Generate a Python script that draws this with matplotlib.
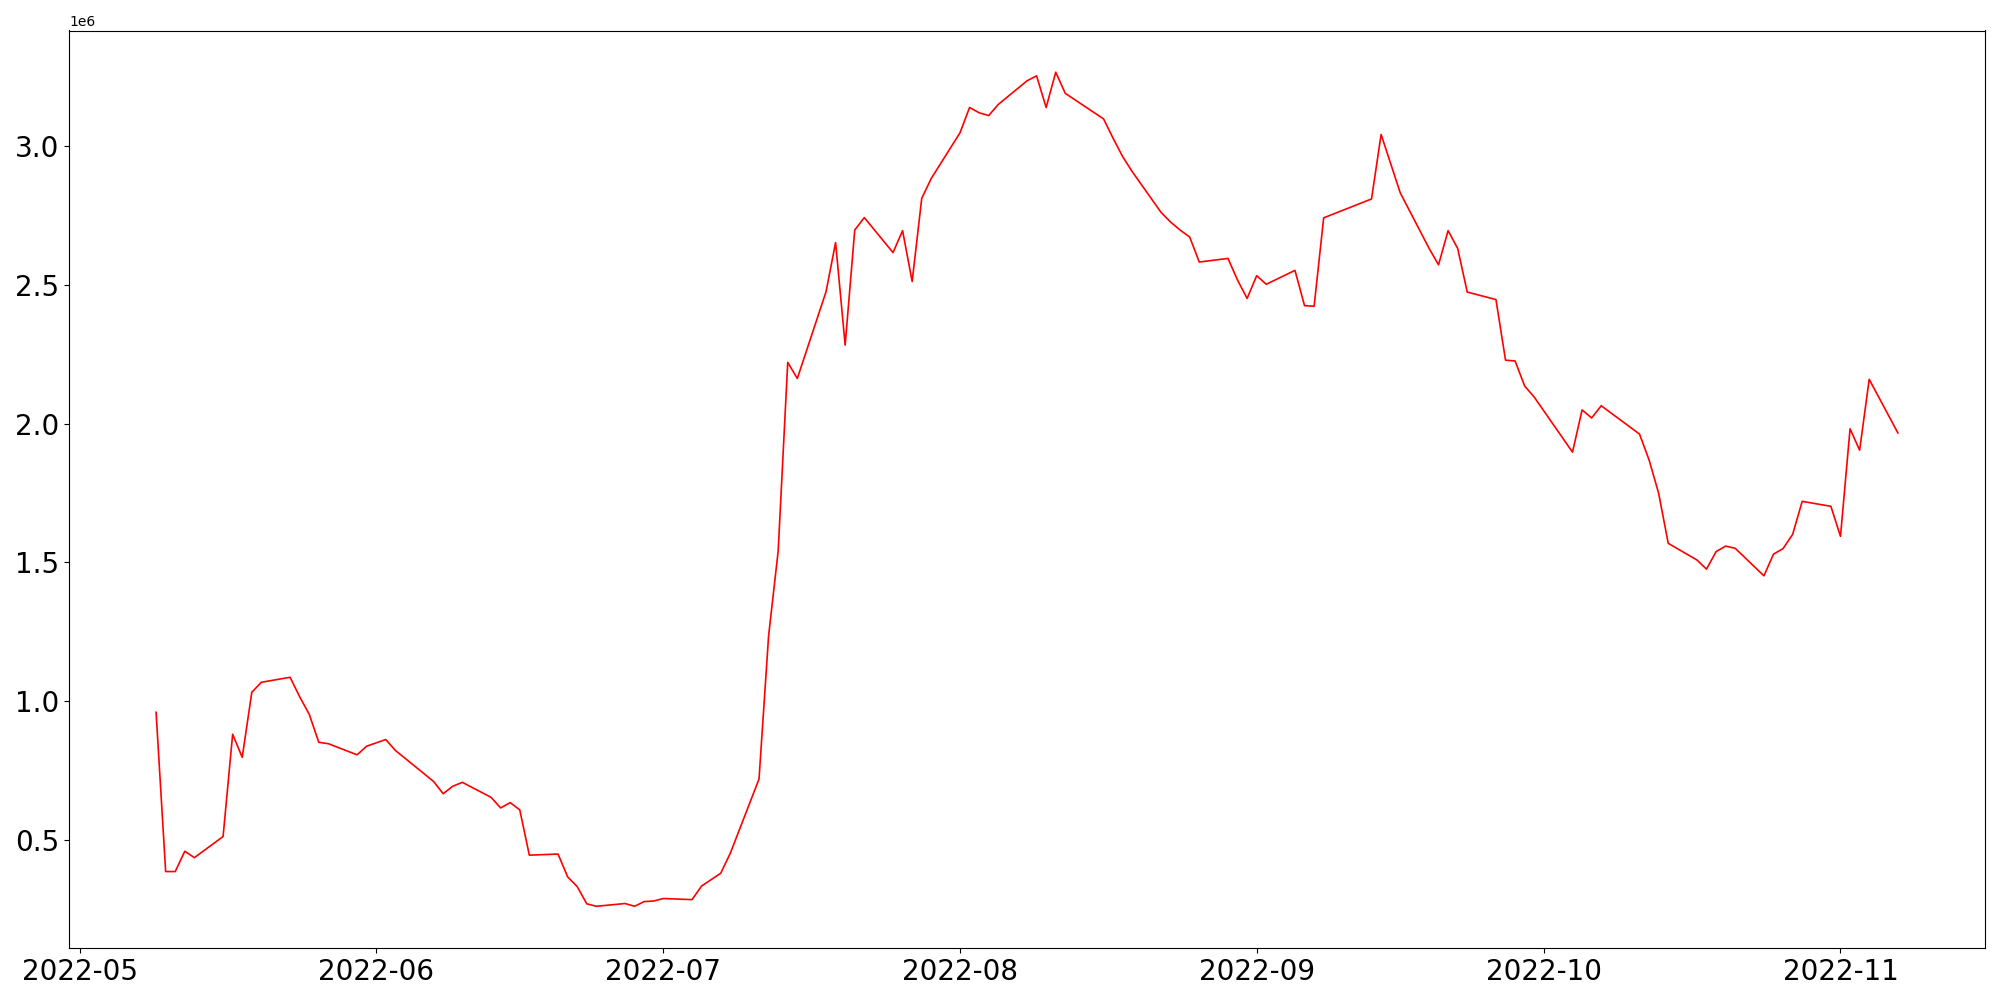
# plot.py

import pandas as pd
import matplotlib
matplotlib.use('Agg')
import matplotlib.pyplot as plt

START = '2022-05-09'
END = '2022-11-07'
# market closed on these weekdays
HOLIDAYS = ['2022-06-01', '2022-06-06', '2022-08-15', '2022-09-09',
            '2022-09-12', '2022-10-03', '2022-10-10']

# values in millions, one per trading day, month by month
may = [0.961, 0.388, 0.388, 0.461, 0.438, 0.514, 0.882, 0.799, 1.033, 1.069,
       1.087, 1.017, 0.954, 0.853, 0.848, 0.808, 0.839]
jun = [0.863, 0.824, 0.712, 0.668, 0.695, 0.709, 0.655, 0.617, 0.636, 0.610,
       0.447, 0.451, 0.369, 0.334, 0.272, 0.263, 0.273, 0.263, 0.280, 0.282]
jul = [0.291, 0.287, 0.336, 0.359, 0.382, 0.454, 0.721, 1.236, 1.541, 2.220,
       2.162, 2.474, 2.651, 2.282, 2.696, 2.741, 2.615, 2.694, 2.511, 2.810,
       2.882]
aug = [3.046, 3.137, 3.118, 3.108, 3.148, 3.233, 3.251, 3.137, 3.264, 3.188,
       3.096, 3.026, 2.960, 2.906, 2.760, 2.725, 2.696, 2.671, 2.581, 2.594,
       2.516, 2.450]
sep = [2.532, 2.501, 2.551, 2.424, 2.422, 2.740, 2.808, 3.040, 2.935, 2.830,
       2.631, 2.571, 2.694, 2.630, 2.473, 2.446, 2.228, 2.225, 2.135, 2.095]
oct_ = [1.897, 2.049, 2.020, 2.064, 1.962, 1.869, 1.749, 1.569, 1.509, 1.476,
        1.539, 1.559, 1.551, 1.452, 1.530, 1.550, 1.601, 1.720, 1.702]
nov = [1.594, 1.981, 1.904, 2.159, 1.966]

dates = pd.bdate_range(START, END)
dates = dates[~dates.isin(pd.to_datetime(HOLIDAYS))]
values = pd.Series([v * 1e6 for v in may + jun + jul + aug + sep + oct_ + nov],
                   index=dates)

fig = plt.figure(figsize=(20, 10), dpi=100)
ax = fig.add_subplot(111)
ax.plot(values.index, values.values, color='red', linewidth=1.2)
ax.tick_params(axis='both', labelsize=20)
fig.subplots_adjust(left=0.0345, right=0.9925, top=0.9695, bottom=0.052)

fig.savefig('out.png')
